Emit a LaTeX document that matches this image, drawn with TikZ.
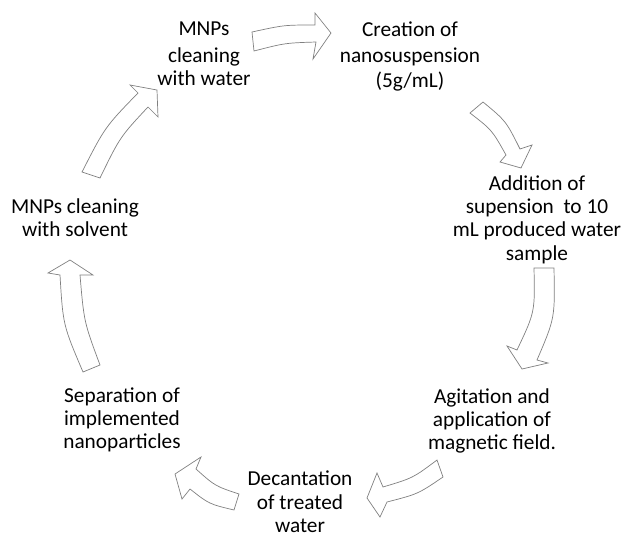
\documentclass[tikz,border=0pt]{standalone}
\usepackage{fontspec}
\setmainfont{Carlito}
\usepackage{tikz}

\tikzset{
    stage/.style={align=center, anchor=base, inner sep=0pt, font=\fontsize{21.3}{23.4}\selectfont},
    blockarrow/.style={draw=black!50, fill=white, line width=0.7pt, line join=miter}
}

\begin{document}
\begin{tikzpicture}[x=1pt,y=-1pt]
    \useasboundingbox (0,0) rectangle (625,539);

    % the seven steps of the cycle (placed at the baseline of their last line)
    \node[stage] (water) at (204,85.5) {MNPs\\[3pt]cleaning\\with water};
    \node[stage] (creation) at (410,87.3) {Creation of\\[3.5pt]nanosuspension\\[1pt](5g/mL)};
    \node[stage] (addition) at (537,260.2) {Addition of\\supension~ to 10\\mL produced water\\sample};
    \node[stage] (agitation) at (492,449.8) {Agitation and\\application of\\magnetic field.};
    \node[stage] (decantation) at (300,532.5) {Decantation\\of treated\\water};
    \node[stage] (separation) at (122,448.8) {Separation of\\implemented\\nanoparticles};
    \node[stage] (solvent) at (75,236.4) {MNPs cleaning\\with solvent};

    % block arrows between the steps
    \draw[blockarrow] (252,32) .. controls (284,25) .. (315,25) -- (315,13) -- (331,33)
      -- (313,59) -- (316,42) .. controls (285,43) .. (254,51) -- cycle;
    \draw[blockarrow] (483,102) .. controls (506,121) .. (520,149) -- (532,145) -- (521,168)
      -- (500,162) -- (506,155) .. controls (492,130) .. (470,113) -- cycle;
    \draw[blockarrow] (554,268) .. controls (555,318) .. (537,360) -- (548,363) -- (522,369)
      -- (507,346) -- (517,350) .. controls (535,312) .. (534,268) -- cycle;
    \draw[blockarrow] (443,477) .. controls (418,494) .. (387,502) -- (380,517) -- (367,498)
      -- (377,473) -- (383,487) .. controls (413,478) .. (437,460) -- cycle;
    \draw[blockarrow] (239,494) .. controls (215,486) .. (196,469) -- (201,457) -- (175,474)
      -- (182,499) -- (190,489) .. controls (209,504) .. (234,510) -- cycle;
    \draw[blockarrow] (100,365) .. controls (84,322) .. (80,275) -- (93,275) -- (70,260)
      -- (48,273) -- (60,275) .. controls (63,325) .. (83,372) -- cycle;
    \draw[blockarrow] (100,178) .. controls (120,137) .. (148,107) -- (158,117) -- (157,90)
      -- (130,85) -- (138,93) .. controls (105,127) .. (82,172) -- cycle;
\end{tikzpicture}
\end{document}
